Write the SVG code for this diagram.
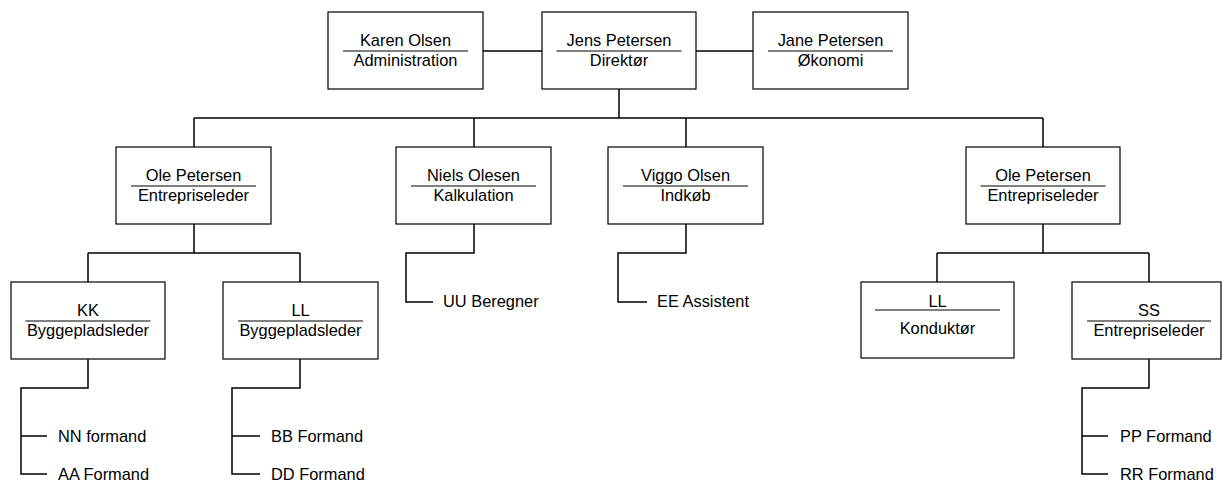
<svg xmlns="http://www.w3.org/2000/svg" width="1223" height="482" viewBox="0 0 1223 482">
<style>
.box{fill:#fff;stroke:#000;stroke-width:1.2}
.ul{stroke:#000;stroke-width:1.2}
.t{font-family:"Liberation Sans",Arial,sans-serif;font-size:16.4px;fill:#000;text-anchor:middle}
.l{font-family:"Liberation Sans",Arial,sans-serif;font-size:16.4px;fill:#000}
#connectors path{fill:none;stroke:#000;stroke-width:1.5}
</style>
<rect width="1223" height="482" fill="#fff"/>
<g id="connectors">
<path d="M483 51H542M696 51H753"/>
<path d="M619 89V118M194 118H1043M194 118V147M474 118V147M686 118V147M1043 118V147"/>
<path d="M194 224V253M88 253H300M88 253V282M300 253V282"/>
<path d="M474 224V253H406V302H433"/>
<path d="M686 224V253H618V302H647"/>
<path d="M1043 224V253M937 253H1149M937 253V282M1149 253V282"/>
<path d="M88 359V388H21V474H47M21 436H47"/>
<path d="M300 359V388H232V474H260M232 436H260"/>
<path d="M1149 359V388H1082V474H1108M1082 436H1108"/>
</g>
<g id="karen"><rect class="box" x="328" y="12" width="155" height="77"/><text class="t" x="405.5" y="46">Karen Olsen</text><line class="ul" x1="343" y1="51" x2="468" y2="51"/><text class="t" x="405.5" y="66">Administration</text></g>
<g id="jens"><rect class="box" x="542" y="12" width="154" height="77"/><text class="t" x="619" y="46">Jens Petersen</text><line class="ul" x1="556.5" y1="51" x2="681.5" y2="51"/><text class="t" x="619" y="66">Direktør</text></g>
<g id="jane"><rect class="box" x="753" y="12" width="155" height="77"/><text class="t" x="830.5" y="46">Jane Petersen</text><line class="ul" x1="768" y1="51" x2="893" y2="51"/><text class="t" x="830.5" y="66">Økonomi</text></g>
<g id="ole1"><rect class="box" x="116" y="147" width="155" height="77"/><text class="t" x="193.5" y="181">Ole Petersen</text><line class="ul" x1="131" y1="186" x2="256" y2="186"/><text class="t" x="193.5" y="201">Entrepriseleder</text></g>
<g id="niels"><rect class="box" x="396" y="147" width="155" height="77"/><text class="t" x="473.5" y="181">Niels Olesen</text><line class="ul" x1="411" y1="186" x2="536" y2="186"/><text class="t" x="473.5" y="201">Kalkulation</text></g>
<g id="viggo"><rect class="box" x="608" y="147" width="155" height="77"/><text class="t" x="685.5" y="181">Viggo Olsen</text><line class="ul" x1="623" y1="186" x2="748" y2="186"/><text class="t" x="685.5" y="201">Indkøb</text></g>
<g id="ole2"><rect class="box" x="966" y="147" width="154" height="77"/><text class="t" x="1043" y="181">Ole Petersen</text><line class="ul" x1="980.5" y1="186" x2="1105.5" y2="186"/><text class="t" x="1043" y="201">Entrepriseleder</text></g>
<g id="kk"><rect class="box" x="11" y="282" width="154" height="77"/><text class="t" x="88" y="316">KK</text><line class="ul" x1="25.5" y1="321" x2="150.5" y2="321"/><text class="t" x="88" y="336">Byggepladsleder</text></g>
<g id="ll1"><rect class="box" x="223" y="282" width="155" height="77"/><text class="t" x="300.5" y="316">LL</text><line class="ul" x1="238" y1="321" x2="363" y2="321"/><text class="t" x="300.5" y="336">Byggepladsleder</text></g>
<g id="ll2"><rect class="box" x="861" y="282" width="153" height="76"/><text class="t" x="937.5" y="307">LL</text><line class="ul" x1="875" y1="310" x2="1000" y2="310"/><text class="t" x="937.5" y="334">Konduktør</text></g>
<g id="ss"><rect class="box" x="1072" y="282" width="149" height="77"/><text class="t" x="1149" y="316">SS</text><line class="ul" x1="1087" y1="321" x2="1211" y2="321"/><text class="t" x="1149" y="336">Entrepriseleder</text></g>
<g id="uu"><text class="l" x="443" y="307">UU Beregner</text></g>
<g id="ee"><text class="l" x="657" y="307">EE Assistent</text></g>
<g id="nn"><text class="l" x="58" y="442">NN formand</text></g>
<g id="aa"><text class="l" x="58" y="480">AA Formand</text></g>
<g id="bb"><text class="l" x="271" y="442">BB Formand</text></g>
<g id="dd"><text class="l" x="271" y="480">DD Formand</text></g>
<g id="pp"><text class="l" x="1120" y="442">PP Formand</text></g>
<g id="rr"><text class="l" x="1120" y="480">RR Formand</text></g>
</svg>
